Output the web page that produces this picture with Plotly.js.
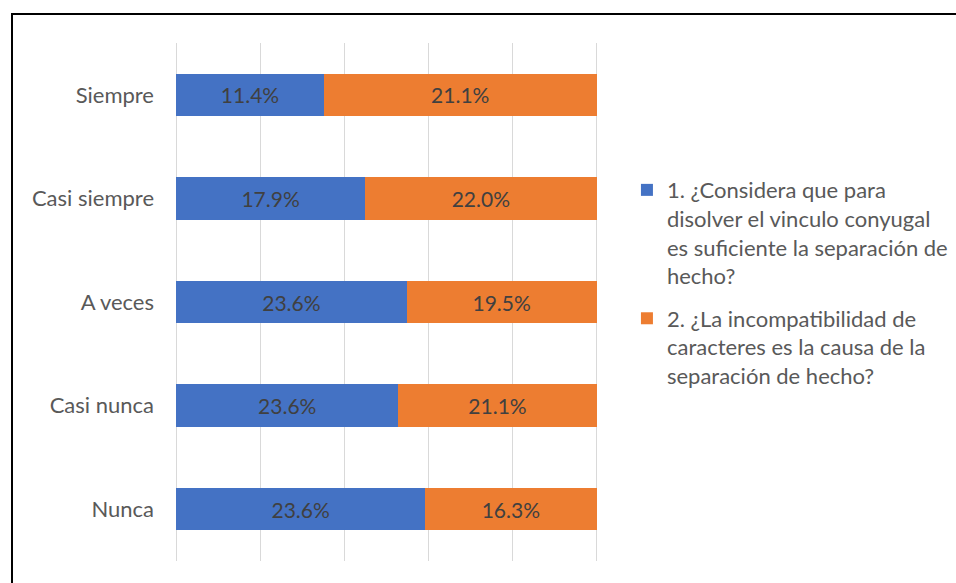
<!DOCTYPE html>
<html>
<head>
<meta charset="utf-8">
<script src="https://cdn.plot.ly/plotly-3.0.1.min.js"></script>
<style>
  html, body { margin: 0; padding: 0; background: #fff; overflow: hidden; }
  #wrap { position: relative; width: 956px; height: 583px; }
  #chart { position: absolute; left: 0; top: 0; width: 956px; height: 583px; }
  #frame { position: absolute; left: 11px; top: 13px; width: 960px; height: 600px;
           border: 2px solid #000; pointer-events: none; box-sizing: border-box; }
</style>
</head>
<body>
<div id="wrap">
  <div id="chart"></div>
  <div id="frame"></div>
</div>
<script>
const categories = ["Siempre", "Casi siempre", "A veces", "Casi nunca", "Nunca"];
const seriesNames = [
  "1. ¿Considera que para<br>disolver el vinculo conyugal<br>es suficiente la separación de<br>hecho?",
  "2. ¿La incompatibilidad de<br>caracteres es la causa de la<br>separación de hecho?"
];
const q1Values = [11.4, 17.9, 23.6, 23.6, 23.6];
const q2Values = [21.1, 22.0, 19.5, 21.1, 16.3];
const colors = ["#4472C4", "#ED7D31"];

const fontFamily = "Lato, 'Open Sans', sans-serif";

function makeTrace(name, values, color, group) {
  return {
    type: "bar",
    orientation: "h",
    name: name,
    legendgroup: group,
    y: categories,
    x: values,
    marker: { color: color },
    text: values.map(v => v.toFixed(1) + "%"),
    texttemplate: "%{text}",
    textposition: "inside",
    insidetextanchor: "middle",
    textangle: 0,
    insidetextfont: { color: "#404040", size: 21, family: fontFamily },
    hoverinfo: "skip"
  };
}

const data = [
  makeTrace(seriesNames[0], q1Values, colors[0], "g1"),
  makeTrace(seriesNames[1], q2Values, colors[1], "g2")
];

const layout = {
  width: 956,
  height: 583,
  barmode: "stack",
  barnorm: "percent",
  bargap: 0.59,
  paper_bgcolor: "#fff",
  plot_bgcolor: "#fff",
  margin: { l: 175, r: 358, t: 43, b: 22, autoexpand: false },
  font: { family: fontFamily, color: "#595959", size: 22 },
  xaxis: {
    range: [-0.3, 100.3],
    tickvals: [0, 20, 40, 60, 80, 100],
    showticklabels: false,
    showgrid: true,
    gridcolor: "#D9D9D9",
    gridwidth: 1.5,
    zeroline: false,
    showline: false,
    ticks: ""
  },
  yaxis: {
    type: "category",
    autorange: "reversed",
    showgrid: false,
    zeroline: false,
    showline: false,
    ticks: "",
    ticklabelstandoff: 20,
    tickfont: { size: 22, color: "#595959", family: fontFamily }
  },
  legend: {
    xref: "container",
    yref: "container",
    x: 0.6558,
    xanchor: "left",
    y: 0.710,
    yanchor: "top",
    traceorder: "grouped",
    valign: "top",
    font: { size: 22, color: "#595959", family: fontFamily },
    itemwidth: 30,
    tracegroupgap: 11
  },
  showlegend: true
};

Plotly.newPlot("chart", data, layout, { displayModeBar: false, staticPlot: true });
</script>
</body>
</html>
